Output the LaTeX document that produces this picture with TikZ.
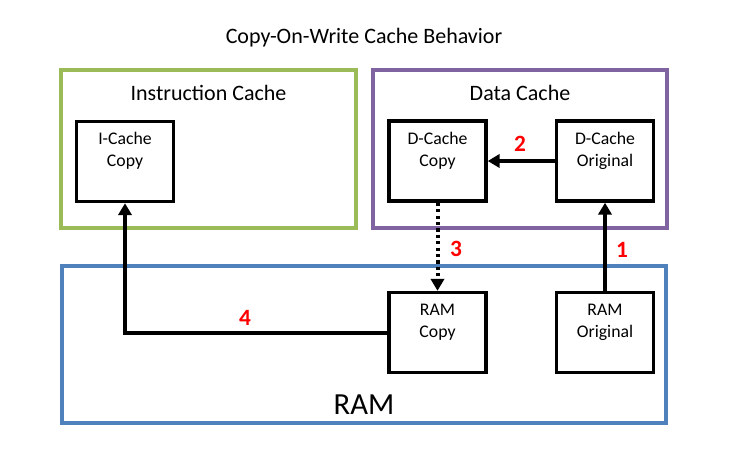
\documentclass[tikz,border=0pt]{standalone}
\usepackage{fontspec}
\setmainfont{Carlito}
\usetikzlibrary{arrows.meta}
\definecolor{cgreen}{HTML}{9BBB59}
\definecolor{cpurple}{HTML}{8064A2}
\definecolor{cblue}{HTML}{4F81BD}
\definecolor{cred}{HTML}{FF0000}
\tikzset{
  grp/.style={draw, line width=2.4pt, rectangle, inner sep=0pt},
  unit/.style={draw=black, line width=2.6pt, rectangle, inner sep=0pt, minimum width=72.75pt, minimum height=60pt},
  utext/.style={align=center, font=\fontsize{13.3}{16.5}\selectfont, inner sep=0pt},
  gtitle/.style={font=\fontsize{16.5}{19}\selectfont, inner sep=0pt},
  num/.style={text=cred, font=\bfseries\fontsize{17.5}{19}\selectfont, inner sep=0pt},
  arr/.style={line width=3pt, -{Triangle[length=9pt,width=10pt]}},
  dotline/.style={dash pattern=on 2.4pt off 2.4pt}
}
\begin{document}
\begin{tikzpicture}[x=0.75pt,y=-0.75pt]
\useasboundingbox (0,0) rectangle (738,458);
\node[gtitle] (title) at (364,38) {Copy-On-Write Cache Behavior};
\node[grp, draw=cgreen, minimum width=221.25pt, minimum height=118.5pt] (icache) at (208.5,149) {};
\node[grp, draw=cpurple, minimum width=220.5pt, minimum height=118.5pt] (dcache) at (520,149) {};
\node[grp, draw=cblue, minimum width=453pt, minimum height=117.75pt] (ram) at (364,344.5) {};
\node[gtitle] (icache-t) at (208.5,93) {Instruction Cache};
\node[gtitle] (dcache-t) at (520,93) {Data Cache};
\node[font=\fontsize{23}{26}\selectfont, inner sep=0pt] (ram-t) at (364,405) {RAM};

\node[unit] (ic) at (125,161.5) {};
\node[unit] (dc) at (437.5,161) {};
\node[unit] (do) at (605,161) {};
\node[unit] (rc) at (437.5,332.5) {};
\node[unit] (ro) at (605,332.5) {};

\node[utext] (ic-t) at (125,151) {I-Cache\\Copy};
\node[utext] (dc-t) at (437.5,151) {D-Cache\\Copy};
\node[utext] (do-t) at (605,151) {D-Cache\\Original};
\node[utext] (rc-t) at (437.5,322) {RAM\\Copy};
\node[utext] (ro-t) at (605,322) {RAM\\Original};

\draw[arr] (ro.north) -- (do.south);
\draw[arr] (do.west) -- (dc.east);
\draw[arr, dotline] (dc.south) -- (rc.north);
\draw[arr] (rc.west) -| (ic.south);

\node[num] (n1) at (622,250) {1};
\node[num] (n2) at (520,144) {2};
\node[num] (n3) at (456,249) {3};
\node[num] (n4) at (245,318) {4};
\end{tikzpicture}
\end{document}
